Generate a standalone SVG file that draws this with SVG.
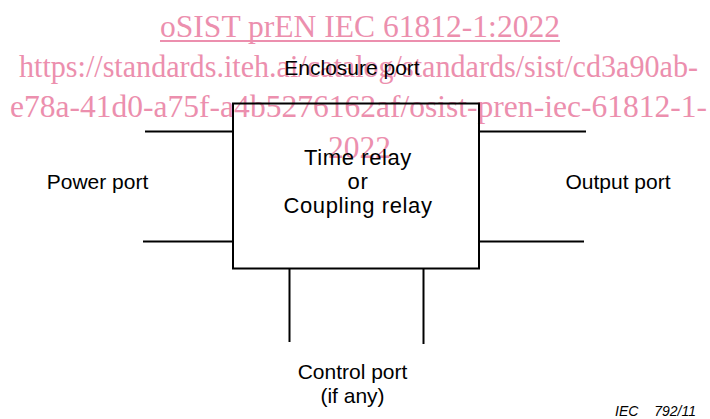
<svg xmlns="http://www.w3.org/2000/svg" width="710" height="419" viewBox="0 0 710 419">
<style>
.wm{font-family:"Liberation Serif","Times New Roman",serif;font-size:31.5px;fill:#ec8fae}
.wm2{font-size:30.5px}
.lbl{font-family:"Liberation Sans",Arial,sans-serif;font-size:21px;fill:#000;text-anchor:middle}
.box{font-family:"Liberation Sans",Arial,sans-serif;font-size:22px;letter-spacing:0.6px;fill:#000;text-anchor:middle}
.ln{stroke:#000;stroke-width:2;fill:none}
.ref{font-family:"Liberation Sans",Arial,sans-serif;font-size:14px;font-style:italic;fill:#000}
</style>
<rect width="710" height="419" fill="#fff"/>
<g id="watermark">
<text class="wm" x="160" y="36.5" textLength="400" lengthAdjust="spacingAndGlyphs">oSIST prEN IEC 61812-1:2022</text>
<line x1="160" y1="41" x2="560" y2="41" stroke="#ec8fae" stroke-width="2"/>
<text class="wm wm2" x="19" y="77" textLength="679" lengthAdjust="spacingAndGlyphs">https://standards.iteh.ai/catalog/standards/sist/cd3a90ab-</text>
<text class="wm wm2" x="10" y="117" textLength="697" lengthAdjust="spacingAndGlyphs">e78a-41d0-a75f-a4b5276162af/osist-pren-iec-61812-1-</text>
<text class="wm" x="328" y="157.5" textLength="63" lengthAdjust="spacingAndGlyphs">2022</text>
</g>
<g id="connectors">
<line class="ln" x1="145" y1="131.5" x2="233" y2="131.5"/>
<line class="ln" x1="143" y1="241.5" x2="233" y2="241.5"/>
<line class="ln" x1="479" y1="131.5" x2="586" y2="131.5"/>
<line class="ln" x1="479" y1="241.5" x2="584" y2="241.5"/>
<line class="ln" x1="289.5" y1="268" x2="289.5" y2="342"/>
<line class="ln" x1="423.5" y1="268" x2="423.5" y2="344"/>
</g>
<g id="relay">
<rect class="ln" x="233" y="103.5" width="246" height="165" fill="none"/>
<text class="box" x="358" y="165">Time relay</text>
<text class="box" x="358" y="189">or</text>
<text class="box" x="358" y="213">Coupling relay</text>
</g>
<g id="enclosure-port">
<text class="lbl" x="352" y="75">Enclosure port</text>
</g>
<g id="power-port">
<text class="lbl" x="97.5" y="189">Power port</text>
</g>
<g id="output-port">
<text class="lbl" x="618" y="189">Output port</text>
</g>
<g id="control-port">
<text class="lbl" x="352.5" y="379">Control port</text>
<text class="lbl" x="352.5" y="403">(if any)</text>
</g>
<g id="figure-ref">
<text class="ref" x="615" y="416">IEC</text>
<text class="ref" x="696" y="416" text-anchor="end">792/11</text>
</g>
</svg>
